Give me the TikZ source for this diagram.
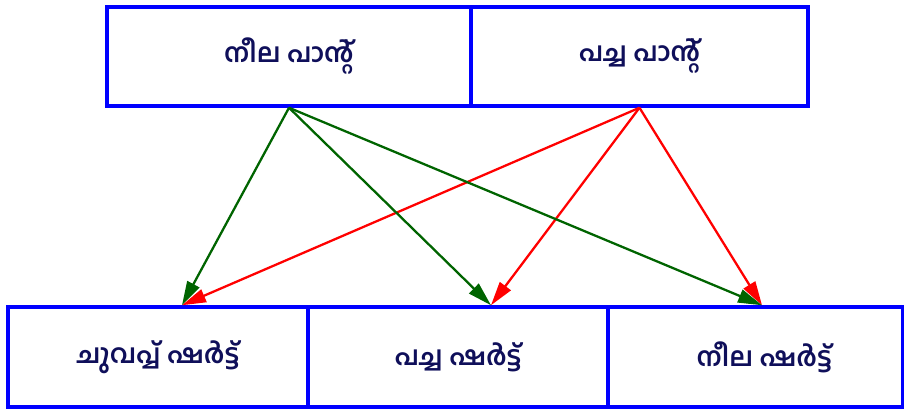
\documentclass[tikz,border=0pt]{standalone}
\usepackage{fontspec}
\newfontfamily\mlfont[Script=Malayalam]{Hind Kochi}
\usetikzlibrary{arrows.meta}
\usetikzlibrary{positioning}
\definecolor{txtnavy}{RGB}{15,15,90}
\definecolor{pantgreen}{RGB}{0,100,0}

\begin{document}
\begin{tikzpicture}[x=0.02cm,y=-0.02cm,
  box/.style={rectangle,draw=blue,line width=2pt,inner sep=0pt,minimum height=1.98cm,font=\mlfont\bfseries\fontsize{15}{18}\selectfont,text=txtnavy},
  greenarr/.style={draw=pantgreen,fill=pantgreen,line width=1.3pt,-{Triangle[length=0.48cm,width=0.27cm]}},
  redarr/.style={draw=red,fill=red,line width=1.3pt,-{Triangle[length=0.48cm,width=0.27cm]}}]
\useasboundingbox (0,0) rectangle (904,412);
% pants
\node[box,minimum width=7.28cm] (neelapant) at (289,56.5) {നീല പാന്റ്};
\node[box,minimum width=6.74cm] (pachapant) at (639.5,56.5) {\raisebox{-0.25cm}{പച്ച പാന്റ്}};
% shirts
\node[box,minimum width=6cm,minimum height=2cm] (chuvappushirt) at (158,357) {ചുവപ്പ് ഷർട്ട്};
\node[box,minimum width=6cm,minimum height=2cm] (pachashirt) at (458,357) {\raisebox{-0.08cm}{പച്ച ഷർട്ട്}};
\node[box,minimum width=5.9cm,minimum height=2cm] (neelashirt) at (755.5,357) {\hspace{0.35cm}\raisebox{-0.15cm}{നീല ഷർട്ട്}};

\coordinate (t1) at ([xshift=0.48cm]chuvappushirt.north);
\coordinate (t2) at ([xshift=0.66cm]pachashirt.north);
\coordinate (t3) at ([xshift=0.13cm]neelashirt.north);

\draw[redarr] (pachapant.south) -- (t1);
\draw[redarr] (pachapant.south) -- (t2);
\draw[redarr] (pachapant.south) -- (t3);
\draw[greenarr] (neelapant.south) -- (t1);
\draw[greenarr] (neelapant.south) -- (t2);
\draw[greenarr] (neelapant.south) -- (t3);

\end{tikzpicture}
\end{document}
